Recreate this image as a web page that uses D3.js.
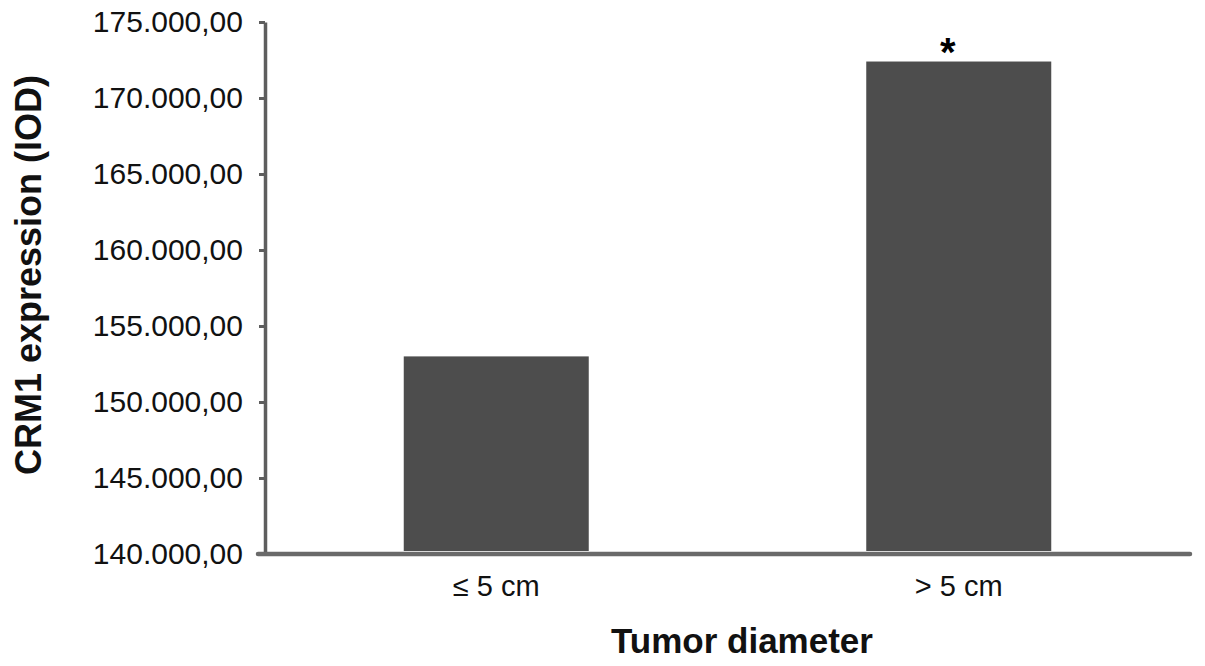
<!DOCTYPE html>
<html><head><meta charset="utf-8">
<script src="https://cdn.jsdelivr.net/npm/d3@7"></script>
<style>body{margin:0;background:#fff}svg{display:block}text{font-family:"Liberation Sans",Arial,sans-serif}</style>
</head><body>
<svg id="c" width="1205" height="666"></svg>
<script>
const categories = ["≤ 5 cm", "> 5 cm"];
const values = [153000, 172400];
const significance = ["", "*"];
const yTicks = [140000, 145000, 150000, 155000, 160000, 165000, 170000, 175000];
const yTitle = "CRM1 expression (IOD)";
const xTitle = "Tumor diameter";

const svg = d3.select("#c");
const x0 = 265, x1 = 1190, yTop = 22, yBot = 554;
const y = d3.scaleLinear().domain([140000, 175000]).range([yBot, yTop]);
const x = d3.scaleBand().domain(categories).range([x0, x1]).paddingInner(0.6).paddingOuter(0.3);
const fmt = v => d3.format(",.2f")(v).replace(/,/g, "#").replace(/\./g, ",").replace(/#/g, ".");

svg.selectAll("rect.bar").data(values).enter().append("rect")
  .attr("class", "bar")
  .attr("x", (d, i) => x(categories[i]))
  .attr("width", x.bandwidth())
  .attr("y", d => y(d))
  .attr("height", d => yBot - 3 - y(d))
  .attr("fill", "#4d4d4d");

const yAxis = svg.append("g").attr("transform", `translate(${x0},0)`)
  .call(d3.axisLeft(y).tickValues(yTicks).tickFormat(fmt).tickSize(6).tickSizeOuter(0));
yAxis.select(".domain").attr("stroke", "#5e5e5e").attr("stroke-width", 3.5);
yAxis.selectAll(".tick line").attr("stroke", "#5e5e5e").attr("stroke-width", 3);
yAxis.selectAll(".tick text").attr("font-size", 30).attr("fill", "#111").attr("x", -22).attr("dy", "0.3em");

const xAxis = svg.append("g").attr("transform", `translate(0,${yBot})`)
  .call(d3.axisBottom(x).tickSize(0).tickSizeOuter(0));
xAxis.select(".domain").attr("stroke", "#6a6a6a").attr("stroke-width", 4.5).attr("d", `M${x0-7},0H${x1}`).attr("stroke-linecap", "round");
xAxis.selectAll(".tick text").attr("font-size", 29).attr("fill", "#111").attr("y", 42).attr("dy", 0);

svg.selectAll("text.sig").data(values).enter().append("text")
  .attr("class", "sig")
  .attr("x", (d, i) => x(categories[i]) + x.bandwidth() / 2 - 11)
  .attr("y", d => y(d) + 4)
  .attr("text-anchor", "middle")
  .attr("font-size", 40).attr("font-weight", "bold")
  .text((d, i) => significance[i]);

svg.append("text").attr("transform", `translate(41,275) rotate(-90)`)
  .attr("text-anchor", "middle").attr("font-size", 36).attr("font-weight", "bold").attr("fill", "#111")
  .text(yTitle);

svg.append("text").attr("x", 742).attr("y", 653)
  .attr("text-anchor", "middle").attr("font-size", 35).attr("font-weight", "bold").attr("fill", "#111")
  .text(xTitle);
</script>
</body></html>
